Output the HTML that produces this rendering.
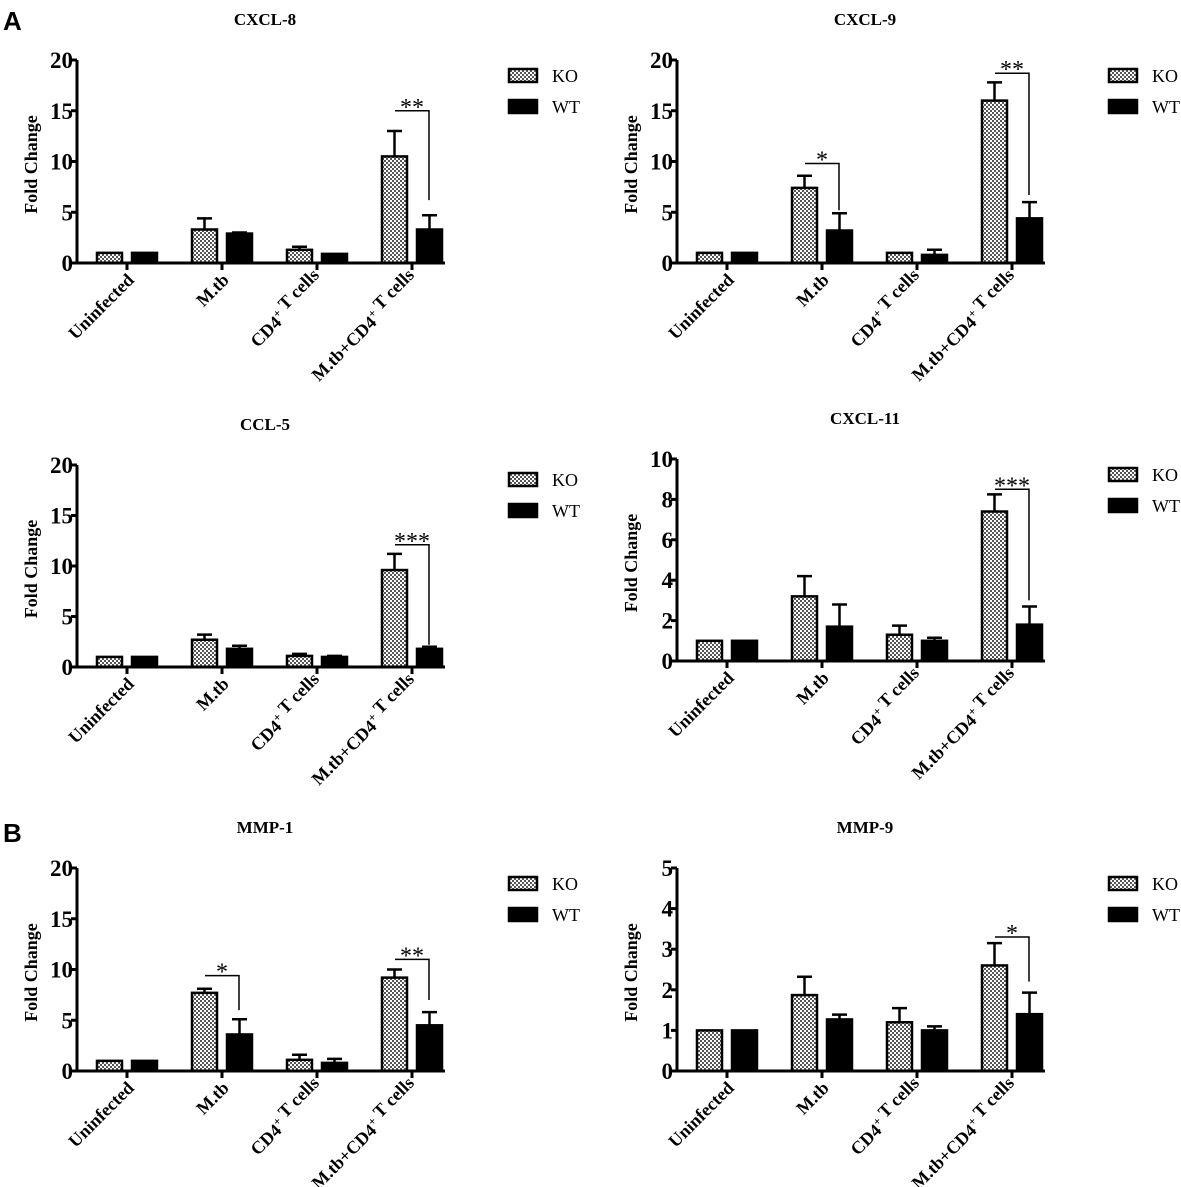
<!DOCTYPE html>
<html><head><meta charset="utf-8"><style>
html,body{margin:0;padding:0;background:#fff;}
svg{display:block;}
text{font-family:"Liberation Serif",serif;font-weight:bold;fill:#000;}
</style></head><body>
<svg id="fig" width="1181" height="1187" viewBox="0 0 1181 1187" xmlns="http://www.w3.org/2000/svg">
<defs>
<pattern id="chk" width="4" height="4" patternUnits="userSpaceOnUse">
<rect width="4" height="4" fill="#fff"/><rect width="2" height="2" fill="#555"/><rect x="2" y="2" width="2" height="2" fill="#555"/>
</pattern>
</defs>
<text x="3" y="30" style="font-family:'Liberation Sans',sans-serif;font-size:26px">A</text>
<text x="3" y="842" style="font-family:'Liberation Sans',sans-serif;font-size:26px">B</text>
</svg>
<script>
const categories = ["Uninfected", "M.tb", "CD4+ T cells", "M.tb+CD4+ T cells"];
const seriesNames = ["KO", "WT"];

const cxcl8KO = [1, 3.3, 1.3, 10.5];
const cxcl8KOErr = [0, 1.1, 0.3, 2.5];
const cxcl8WT = [1, 2.9, 0.9, 3.3];
const cxcl8WTErr = [0, 0.1, 0, 1.4];
const cxcl8Ticks = [0, 5, 10, 15, 20];

const cxcl9KO = [1, 7.4, 1, 16];
const cxcl9KOErr = [0, 1.2, 0, 1.8];
const cxcl9WT = [1, 3.2, 0.8, 4.4];
const cxcl9WTErr = [0, 1.7, 0.5, 1.6];
const cxcl9Ticks = [0, 5, 10, 15, 20];

const ccl5KO = [1, 2.7, 1.1, 9.6];
const ccl5KOErr = [0, 0.5, 0.2, 1.6];
const ccl5WT = [1, 1.8, 1, 1.8];
const ccl5WTErr = [0, 0.3, 0.1, 0.2];
const ccl5Ticks = [0, 5, 10, 15, 20];

const cxcl11KO = [1, 3.2, 1.3, 7.4];
const cxcl11KOErr = [0, 1, 0.45, 0.85];
const cxcl11WT = [1, 1.7, 1, 1.8];
const cxcl11WTErr = [0, 1.1, 0.15, 0.9];
const cxcl11Ticks = [0, 2, 4, 6, 8, 10];

const mmp1KO = [1, 7.7, 1.1, 9.2];
const mmp1KOErr = [0, 0.4, 0.5, 0.8];
const mmp1WT = [1, 3.6, 0.8, 4.5];
const mmp1WTErr = [0, 1.5, 0.4, 1.3];
const mmp1Ticks = [0, 5, 10, 15, 20];

const mmp9KO = [1, 1.87, 1.2, 2.6];
const mmp9KOErr = [0, 0.45, 0.35, 0.55];
const mmp9WT = [1, 1.27, 1, 1.4];
const mmp9WTErr = [0, 0.12, 0.1, 0.53];
const mmp9Ticks = [0, 1, 2, 3, 4, 5];

// significance: [categoryIndex, label, bracketValue, dropValue]
const cxcl8Sig = [[3, "**", 15, 6.2]];
const cxcl9Sig = [[1, "*", 9.8, 5.2], [3, "**", 18.7, 6.7]];
const ccl5Sig = [[3, "***", 12.1, 2.2]];
const cxcl11Sig = [[3, "***", 8.5, 3.0]];
const mmp1Sig = [[1, "*", 9.4, 6.0], [3, "**", 11, 7.0]];
const mmp9Sig = [[3, "*", 3.3, 2.2]];

const NS = "http://www.w3.org/2000/svg";
const svg = document.getElementById("fig");
function mk(tag, attrs, parent) {
  const e = document.createElementNS(NS, tag);
  for (const k in attrs) e.setAttribute(k, attrs[k]);
  (parent || svg).appendChild(e);
  return e;
}

const panels = [
  {id:"cxcl8", title:"CXCL-8", ax:77, top:60, bot:263, ko:cxcl8KO, koE:cxcl8KOErr, wt:cxcl8WT, wtE:cxcl8WTErr, ticks:cxcl8Ticks, sig:cxcl8Sig, lx:508, ly:75},
  {id:"cxcl9", title:"CXCL-9", ax:677, top:60, bot:263, ko:cxcl9KO, koE:cxcl9KOErr, wt:cxcl9WT, wtE:cxcl9WTErr, ticks:cxcl9Ticks, sig:cxcl9Sig, lx:1108, ly:75},
  {id:"ccl5", title:"CCL-5", ax:77, top:465, bot:667, ko:ccl5KO, koE:ccl5KOErr, wt:ccl5WT, wtE:ccl5WTErr, ticks:ccl5Ticks, sig:ccl5Sig, lx:508, ly:479},
  {id:"cxcl11", title:"CXCL-11", ax:677, top:459, bot:661, ko:cxcl11KO, koE:cxcl11KOErr, wt:cxcl11WT, wtE:cxcl11WTErr, ticks:cxcl11Ticks, sig:cxcl11Sig, lx:1108, ly:474},
  {id:"mmp1", title:"MMP-1", ax:77, top:868, bot:1071, ko:mmp1KO, koE:mmp1KOErr, wt:mmp1WT, wtE:mmp1WTErr, ticks:mmp1Ticks, sig:mmp1Sig, lx:508, ly:883},
  {id:"mmp9", title:"MMP-9", ax:677, top:868, bot:1071, ko:mmp9KO, koE:mmp9KOErr, wt:mmp9WT, wtE:mmp9WTErr, ticks:mmp9Ticks, sig:mmp9Sig, lx:1108, ly:883}
];

panels.forEach(p => {
  const g = mk("g", {});
  
  
  const maxV = p.ticks[p.ticks.length - 1];
  const y = v => p.bot - (v / maxV) * (p.bot - p.top);
  const cx = i => p.ax + 50 + i * 95;
  const axEnd = p.ax + 368;

  const t = mk("text", {x: p.ax + 188, y: p.top - 35, "text-anchor": "middle", "font-size": 17}, g);
  t.textContent = p.title;
  
  

  const yl = mk("text", {x: 0, y: 0, "text-anchor": "middle", "font-size": 18, transform: `translate(${p.ax - 40},${(p.top + p.bot) / 2 + 3}) rotate(-90)`}, g);
  yl.textContent = "Fold Change";
  
  

  const drawBar = (vals, errs, off, fill, name) => {
    vals.forEach((v, i) => {
      const x0 = cx(i) + off;
      const e = errs[i];
      if (e > 0) {
        const el = mk("path", {d: `M${x0 + 12.5},${y(v)} V${y(v + e)} M${x0 + 5},${y(v + e)} H${x0 + 20}`, stroke: "#000", "stroke-width": 2.5, fill: "none"}, g);
        
        
      }
      const r = mk("rect", {x: x0, y: y(v), width: 25, height: p.bot - y(v), fill: fill, stroke: "#000", "stroke-width": 2.5}, g);
      
      
    });
  };
  drawBar(p.ko, p.koE, -30, "url(#chk)", "ko");
  drawBar(p.wt, p.wtE, 5, "#000", "wt");

  const axis = mk("path", {d: `M${p.ax},${p.top} V${p.bot} H${axEnd}`, stroke: "#000", "stroke-width": 3, fill: "none"}, g);
  
  
  p.ticks.forEach(tv => {
    mk("line", {x1: p.ax - 6, x2: p.ax, y1: y(tv), y2: y(tv), stroke: "#000", "stroke-width": 3}, g);
    const tl = mk("text", {x: p.ax - 4, y: y(tv) + 8, "text-anchor": "end", "font-size": 23}, g);
    tl.textContent = tv;
    
    
  });
  categories.forEach((c, i) => {
    mk("line", {x1: cx(i), x2: cx(i), y1: p.bot, y2: p.bot + 7, stroke: "#000", "stroke-width": 3}, g);
    const ct = mk("text", {x: 0, y: 0, "text-anchor": "end", "font-size": 18, transform: `translate(${cx(i) + 8},${p.bot + 18}) rotate(-45)`}, g);
    
    
    const parts = c.split("+");
    parts.forEach((part, k) => {
      const s = mk("tspan", {}, ct);
      s.textContent = part;
      if (k < parts.length - 1) {
        if (part.endsWith("CD4")) {
          const sup = mk("tspan", {dy: -7, "font-size": 12}, ct);
          sup.textContent = "+";
          const back = mk("tspan", {dy: 7}, ct);
          back.textContent = "";
        } else {
          const plus = mk("tspan", {}, ct);
          plus.textContent = "+";
        }
      }
    });
  });

  p.sig.forEach((s, k) => {
    const i = s[0];
    const x1 = cx(i) - 17, x2 = cx(i) + 17;
    const br = mk("path", {d: `M${x1},${y(s[2])} H${x2} V${y(s[3])}`, stroke: "#000", "stroke-width": 1.5, fill: "none"}, g);
    
    
    const st = mk("text", {x: (x1 + x2) / 2, y: y(s[2]) + 4, "text-anchor": "middle", "font-size": 24, style: "font-weight:normal"}, g);
    st.textContent = s[1];
    
    
  });

  seriesNames.forEach((n, k) => {
    const ly = p.ly + k * 31;
    const lr = mk("rect", {x: p.lx + 1, y: ly - 6, width: 28, height: 13, fill: k === 0 ? "url(#chk)" : "#000", stroke: "#000", "stroke-width": 2.5}, g);
    
    
    const lt = mk("text", {x: p.lx + 44, y: ly + 7, "font-size": 18, style: "font-weight:normal"}, g);
    lt.textContent = n;
    
    
  });
});
</script>
</body></html>
